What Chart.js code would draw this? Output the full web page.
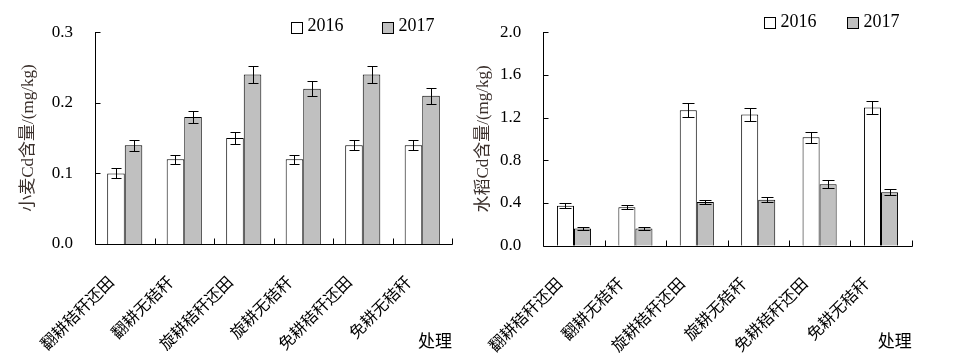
<!DOCTYPE html>
<html><head><meta charset="utf-8">
<script src="https://cdn.jsdelivr.net/npm/chart.js@4"></script>
<style>
html,body{margin:0;padding:0;background:#fff;}
#wrap{position:relative;width:966px;height:359px;overflow:hidden;}
.box{position:absolute;top:0;height:359px;}
#b1{left:0;width:483px;}
#b2{left:460px;width:506px;}
</style></head><body>
<div id="wrap"><div class="box" id="b1"><canvas id="c1"></canvas></div><div class="box" id="b2"><canvas id="c2"></canvas></div></div>
<script>
// ---- data ----
const categories = ['翻耕秸秆还田','翻耕无秸秆','旋耕秸秆还田','旋耕无秸秆','免耕秸秆还田','免耕无秸秆'];
const seriesNames = ['2016','2017'];
const wheat2016 = [0.10, 0.12, 0.15, 0.12, 0.14, 0.14];
const wheat2017 = [0.14, 0.18, 0.24, 0.22, 0.24, 0.21];
const wheatErr2016 = [0.007, 0.0065, 0.008, 0.0065, 0.007, 0.007];
const wheatErr2017 = [0.008, 0.009, 0.012, 0.011, 0.012, 0.011];
const rice2016 = [0.375, 0.36, 1.27, 1.23, 1.015, 1.295];
const rice2017 = [0.16, 0.16, 0.41, 0.43, 0.575, 0.50];
const riceErr2016 = [0.024, 0.018, 0.067, 0.06, 0.054, 0.058];
const riceErr2017 = [0.013, 0.013, 0.021, 0.024, 0.036, 0.027];
const wheatTicks = [0, 0.1, 0.2, 0.3];
const riceTicks = [0, 0.4, 0.8, 1.2, 1.6, 2.0];
const wheatTitle = '小麦Cd含量/(mg/kg)';
const riceTitle = '水稻Cd含量/(mg/kg)';
const xTitle = '处理';

const SERIF = "'Liberation Serif', 'Times New Roman', 'Noto Sans CJK SC', serif";
const CJK = "'Noto Sans CJK SC', 'Liberation Serif', sans-serif";

const decor = {
  id: 'decor',
  afterDatasetsDraw(chart, args, o) {
    const ctx = chart.ctx, ys = chart.scales.y, xs = chart.scales.x, a = chart.chartArea;
    ctx.save();
    ctx.strokeStyle = '#000';
    ctx.lineWidth = 1;
    // error bars
    chart.data.datasets.forEach((ds, di) => {
      const meta = chart.getDatasetMeta(di);
      meta.data.forEach((bar, i) => {
        const v = ds.data[i], e = ds.errors[i];
        const x = Math.round(bar.x) + 0.5;
        const yt = Math.round(ys.getPixelForValue(v + e)) + 0.5;
        const yb = Math.round(ys.getPixelForValue(v - e)) + 0.5;
        ctx.beginPath();
        ctx.moveTo(x, yt); ctx.lineTo(x, yb);
        ctx.moveTo(x - o.cap, yt); ctx.lineTo(x + o.cap, yt);
        ctx.moveTo(x - o.cap, yb); ctx.lineTo(x + o.cap, yb);
        ctx.stroke();
      });
    });
    // axes lines
    const L = Math.round(a.left) + 0.5, B = Math.round(a.bottom) + 0.5;
    ctx.beginPath();
    ctx.moveTo(L, Math.round(a.top)); ctx.lineTo(L, B);
    ctx.lineTo(Math.round(a.right) + 0.5, B);
    ctx.stroke();
    // inward y ticks
    ctx.beginPath();
    ys.ticks.forEach(t => {
      const y = Math.round(ys.getPixelForValue(t.value)) + 0.5;
      ctx.moveTo(L, y); ctx.lineTo(L + 5, y);
    });
    // inward x ticks at category boundaries
    const n = chart.data.labels.length;
    for (let i = 0; i < n; i++) {
      const xb = i < n - 1 ? (xs.getPixelForValue(i) + xs.getPixelForValue(i + 1)) / 2 : a.right;
      const x = Math.round(xb) + 0.5;
      ctx.moveTo(x, B); ctx.lineTo(x, B - 6);
    }
    ctx.stroke();
    // legend
    ctx.font = '18px ' + SERIF;
    ctx.fillStyle = '#000';
    ctx.textBaseline = 'alphabetic';
    ctx.textAlign = 'left';
    chart.data.datasets.forEach((ds, di) => {
      const bx = Math.round(a.left + o.legendX[di]) + 0.5;
      const by = Math.round(o.legendBoxY) + 0.5;
      ctx.fillStyle = ds.backgroundColor;
      ctx.fillRect(bx, by, 11, 11);
      ctx.strokeRect(bx, by, 11, 11);
      ctx.fillStyle = '#000';
      ctx.fillText(ds.label, bx + 16, o.legendTextY);
    });
    ctx.restore();
  }
};

function makeChart(id, v16, v17, e16, e17, ticks, title, geo) {
  return new Chart(document.getElementById(id), {
    type: 'bar',
    data: {
      labels: categories,
      datasets: [
        { label: seriesNames[0], data: v16, errors: e16, backgroundColor: '#ffffff', borderColor: '#000', borderWidth: 1,
          categoryPercentage: geo.catPct, barPercentage: 1 },
        { label: seriesNames[1], data: v17, errors: e17, backgroundColor: '#c0c0c0', borderColor: '#000', borderWidth: 1,
          categoryPercentage: geo.catPct, barPercentage: 1 }
      ]
    },
    options: {
      responsive: true,
      maintainAspectRatio: false,
      animation: false,
      layout: { padding: { left: 0, top: geo.top, right: geo.right, bottom: 0 } },
      plugins: {
        legend: { display: false },
        tooltip: { enabled: false },
        decor: { cap: geo.cap, legendX: geo.legendX, legendBoxY: geo.legendBoxY, legendTextY: geo.legendTextY }
      },
      scales: {
        x: {
          grid: { display: false, drawTicks: false },
          border: { display: false },
          ticks: { autoSkip: false, minRotation: 45, maxRotation: 45, padding: geo.xPad, labelOffset: geo.xOff,
                   color: '#000', font: { family: CJK, size: 16 } },
          title: { display: true, text: xTitle, align: 'end', color: '#000',
                   font: { family: SERIF, size: 17 }, padding: { top: 0, bottom: 6 } },
          afterFit(s) { s.height = geo.xH; }
        },
        y: {
          min: ticks[0], max: ticks[ticks.length - 1],
          grid: { display: false, drawTicks: false },
          border: { display: false },
          afterBuildTicks(s) { s.ticks = ticks.map(v => ({ value: v })); },
          ticks: { padding: 22, color: '#000', font: { family: SERIF, size: 17 },
                   callback: v => Number(v).toFixed(1) },
          title: { display: true, text: title, color: '#3b302c',
                   font: { family: SERIF, size: 17 }, padding: { top: geo.tPad, bottom: 0 } },
          afterFit(s) { s.width = geo.yW; }
        }
      }
    },
    plugins: [decor]
  });
}

makeChart('c1', wheat2016, wheat2017, wheatErr2016, wheatErr2017, wheatTicks, wheatTitle,
  { catPct: 0.59, top: 25, right: 31, xH: 115, yW: 95, tPad: 18, cap: 5,
    legendX: [195.7, 286.7], legendBoxY: 21.5, legendTextY: 30.7, xPad: 28, xOff: -14 });
makeChart('c2', rice2016, rice2017, riceErr2016, riceErr2017, riceTicks, riceTitle,
  { catPct: 0.555, top: 22.3, right: 54.3, xH: 113.3, yW: 83.3, tPad: 13.3, cap: 6,
    legendX: [221, 304], legendBoxY: 16.5, legendTextY: 27.3, xPad: 28, xOff: -15 });
</script>
</body></html>
